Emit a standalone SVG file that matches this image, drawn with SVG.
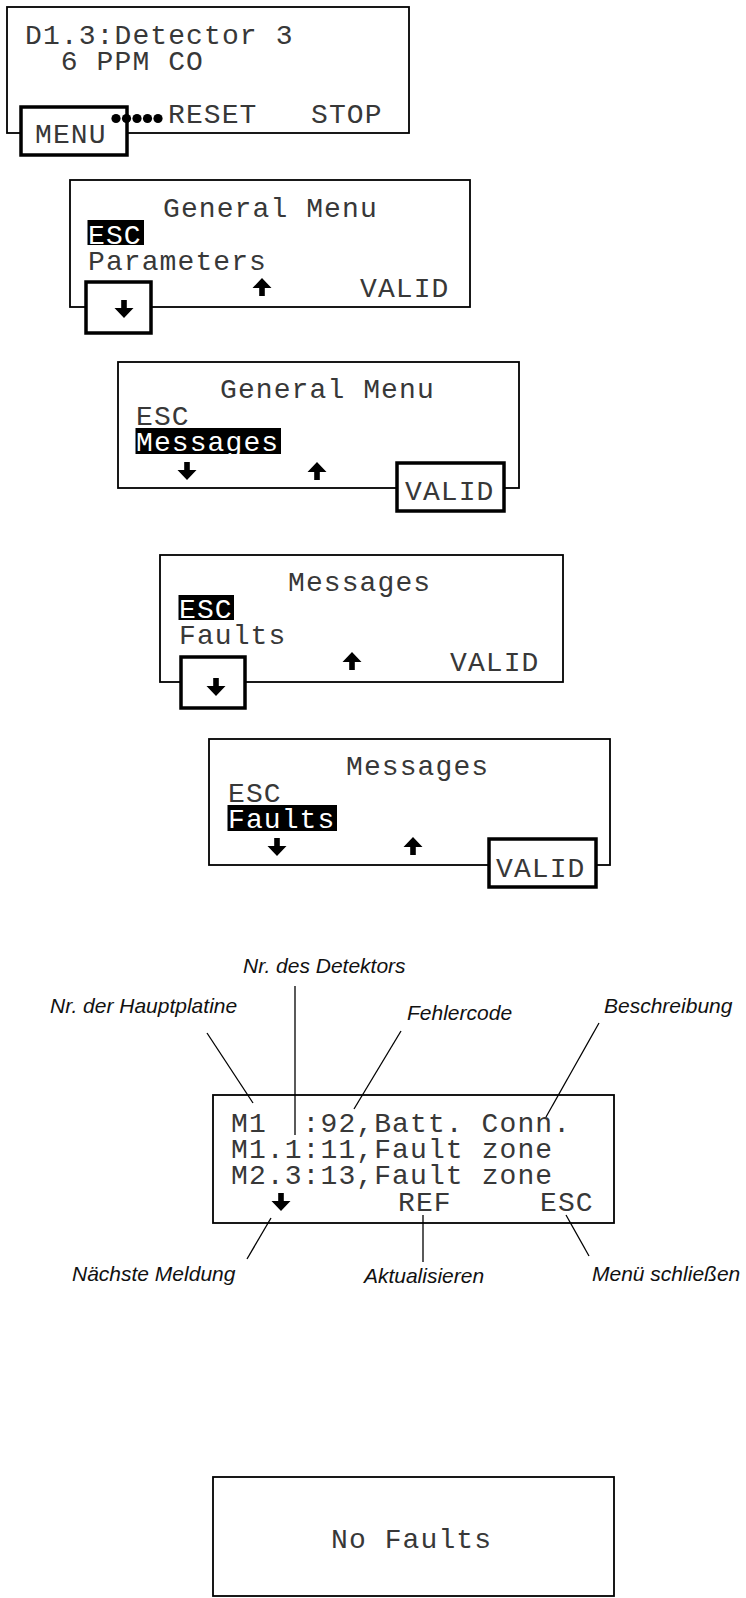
<svg xmlns="http://www.w3.org/2000/svg" width="746" height="1598" viewBox="0 0 746 1598">
  <style>
    .frame{fill:#fff;stroke:#000;stroke-width:1.8}
    .key{fill:#fff;stroke:#000;stroke-width:3.5}
    .lcd{font-family:"Liberation Mono","DejaVu Sans Mono",monospace;font-size:28px;letter-spacing:1.1px;fill:#383838}
    .inv{fill:#fff}
    .hl{fill:#000}
    .glyph{fill:#000}
    .lbl{font-family:"Liberation Sans",Arial,sans-serif;font-style:italic;font-size:21px;fill:#111}
    .lead{stroke:#000;stroke-width:1.3;fill:none}
  </style>
  <defs>
    <path id="arrow-down" class="glyph" d="M-2.8 0H2.8V8H9.5L0 18L-9.5 8H-2.8Z"/>
    <path id="arrow-up" class="glyph" d="M-2.8 18H2.8V10H9.5L0 0L-9.5 10H-2.8Z"/>
  </defs>

  <rect width="746" height="1598" fill="#fff"/>

  <!-- standby display with MENU key -->
  <g id="screen-detector">
    <rect class="frame" x="7" y="7" width="402" height="126"/>
    <text class="lcd" x="25" y="43.5">D1.3:Detector 3</text>
    <text class="lcd" x="60.8" y="70">6 PPM CO</text>
    <text class="lcd" x="168" y="123">RESET</text>
    <text class="lcd" x="311" y="123">STOP</text>
    <rect class="key" x="21" y="107" width="106" height="48"/>
    <text class="lcd" x="35" y="143">MENU</text>
    <g class="glyph">
      <circle cx="116" cy="118.5" r="4.6"/>
      <circle cx="126.5" cy="118.5" r="4.6"/>
      <circle cx="137" cy="118.5" r="4.6"/>
      <circle cx="147.5" cy="118.5" r="4.6"/>
      <circle cx="158" cy="118.5" r="4.6"/>
    </g>
  </g>

  <!-- general menu, ESC selected -->
  <g id="screen-menu-esc">
    <rect class="frame" x="70" y="180" width="400" height="127"/>
    <text class="lcd" x="163" y="217">General Menu</text>
    <rect class="hl" x="87.5" y="220" width="56.5" height="25"/>
    <text class="lcd inv" x="88" y="243.5">ESC</text>
    <text class="lcd" x="88" y="270">Parameters</text>
    <use href="#arrow-up" x="262" y="278"/>
    <text class="lcd" x="360" y="296.5">VALID</text>
    <rect class="key" x="86" y="282" width="65" height="51"/>
    <use href="#arrow-down" x="124" y="300"/>
  </g>

  <!-- general menu, Messages selected -->
  <g id="screen-menu-messages">
    <rect class="frame" x="118" y="362" width="401" height="126"/>
    <text class="lcd" x="220" y="398">General Menu</text>
    <text class="lcd" x="136" y="424.5">ESC</text>
    <rect class="hl" x="135.5" y="428" width="145.5" height="26"/>
    <text class="lcd inv" x="136" y="451">Messages</text>
    <use href="#arrow-down" x="187" y="462"/>
    <use href="#arrow-up" x="317" y="462"/>
    <rect class="key" x="397" y="463" width="107" height="48"/>
    <text class="lcd" x="405" y="500">VALID</text>
  </g>

  <!-- messages menu, ESC selected -->
  <g id="screen-messages-esc">
    <rect class="frame" x="160" y="555" width="403" height="127"/>
    <text class="lcd" x="288" y="591">Messages</text>
    <rect class="hl" x="178.5" y="595" width="55.5" height="25"/>
    <text class="lcd inv" x="179" y="617.5">ESC</text>
    <text class="lcd" x="179" y="644">Faults</text>
    <use href="#arrow-up" x="352" y="652"/>
    <text class="lcd" x="450" y="670.5">VALID</text>
    <rect class="key" x="181" y="657" width="64" height="51"/>
    <use href="#arrow-down" x="216" y="678"/>
  </g>

  <!-- messages menu, Faults selected -->
  <g id="screen-messages-faults">
    <rect class="frame" x="209" y="739" width="401" height="126"/>
    <text class="lcd" x="346" y="775">Messages</text>
    <text class="lcd" x="228" y="801.5">ESC</text>
    <rect class="hl" x="227.5" y="805" width="109.5" height="26"/>
    <text class="lcd inv" x="228" y="828">Faults</text>
    <use href="#arrow-down" x="277" y="838"/>
    <use href="#arrow-up" x="413" y="837"/>
    <rect class="key" x="489" y="839" width="107" height="48"/>
    <text class="lcd" x="496" y="877">VALID</text>
  </g>

  <!-- fault list -->
  <g id="screen-fault-list">
    <rect class="frame" x="213" y="1095" width="401" height="128"/>
    <text class="lcd" x="231" y="1132">M1</text>
    <text class="lcd" x="302.6" y="1132">:92,Batt. Conn.</text>
    <text class="lcd" x="231" y="1158">M1.1:11,Fault zone</text>
    <text class="lcd" x="231" y="1184">M2.3:13,Fault zone</text>
    <use href="#arrow-down" x="281" y="1193"/>
    <text class="lcd" x="398" y="1211">REF</text>
    <text class="lcd" x="540" y="1211">ESC</text>
  </g>

  <!-- empty fault list -->
  <g id="screen-no-faults">
    <rect class="frame" x="213" y="1477" width="401" height="119"/>
    <text class="lcd" x="331" y="1548">No Faults</text>
  </g>

  <!-- leader lines from the labels to the fault list -->
  <g id="leaders">
    <line class="lead" x1="207" y1="1033" x2="253" y2="1103"/>
    <line class="lead" x1="295" y1="986" x2="295" y2="1135"/>
    <line class="lead" x1="401" y1="1031" x2="354" y2="1109"/>
    <line class="lead" x1="599" y1="1023" x2="546" y2="1117"/>
    <line class="lead" x1="271" y1="1218" x2="247" y2="1259"/>
    <line class="lead" x1="423" y1="1215" x2="423" y2="1262"/>
    <line class="lead" x1="566" y1="1215" x2="589" y2="1256"/>
  </g>

  <g id="label-board"><text class="lbl" x="50" y="1013">Nr. der Hauptplatine</text></g>
  <g id="label-detector"><text class="lbl" x="243" y="973">Nr. des Detektors</text></g>
  <g id="label-code"><text class="lbl" x="407" y="1020">Fehlercode</text></g>
  <g id="label-description"><text class="lbl" x="604" y="1013">Beschreibung</text></g>
  <g id="label-next"><text class="lbl" x="72" y="1281">Nächste Meldung</text></g>
  <g id="label-refresh"><text class="lbl" x="424" y="1283" text-anchor="middle">Aktualisieren</text></g>
  <g id="label-close"><text class="lbl" x="592" y="1281">Menü schließen</text></g>
</svg>
